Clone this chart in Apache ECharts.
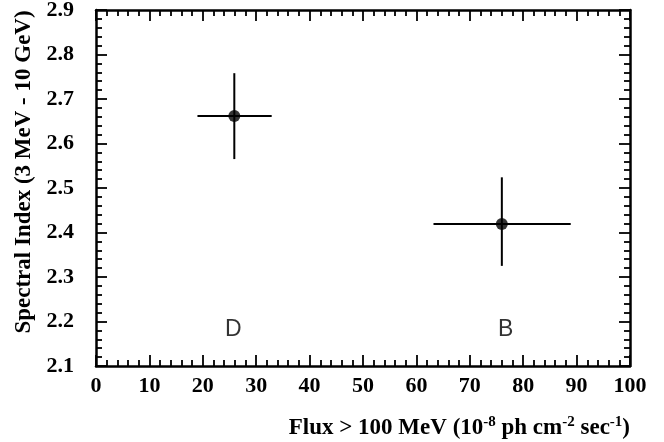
<!DOCTYPE html>
<html>
<head>
<meta charset="utf-8">
<title>Spectral Index vs Flux</title>
<script src="https://cdn.jsdelivr.net/npm/echarts@6/dist/echarts.min.js"></script>
<style>
  html, body { margin: 0; padding: 0; background: #fff; }
  #chart { width: 664px; height: 442px; }
</style>
</head>
<body>
<div id="chart"></div>
<script>
// source names
const sources = ['D', 'B']
// flux > 100 MeV (x), with error range
const flux = [25.9, 76.0]
const fluxLow = [19.0, 63.2]
const fluxHigh = [32.9, 88.9]
// spectral index (y), with error range
const specIndex = [2.662, 2.419]
const indexLow = [2.565, 2.325]
const indexHigh = [2.758, 2.524]
// where the source letters sit
const labelFlux = [25.7, 76.7]
const labelIndex = [2.181, 2.181]
// axis ticks
const xTicks = [0, 10, 20, 30, 40, 50, 60, 70, 80, 90, 100]
const yTicks = ['2.1', '2.2', '2.3', '2.4', '2.5', '2.6', '2.7', '2.8', '2.9']

const serif = 'Liberation Serif'
const chart = echarts.init(document.getElementById('chart'), null, { renderer: 'canvas' })

// shared axis look (box with inside ticks on all four sides)
function boxAxis (extra) {
  return Object.assign({
    type: 'value',
    axisLine: { show: true, onZero: false, lineStyle: { color: '#000', width: 2.5 } },
    axisTick: { show: true, inside: true, length: 11, lineStyle: { color: '#000', width: 1.8 } },
    minorTick: { show: true, splitNumber: 5, length: 6, lineStyle: { color: '#000', width: 1.8 } },
    splitLine: { show: false },
    minorSplitLine: { show: false }
  }, extra)
}

const xAxisLabel = {
  show: true,
  margin: 9,
  color: '#000',
  fontFamily: serif,
  fontWeight: 'bold',
  fontSize: 22,
  formatter: v => String(v)
}
const yAxisLabel = {
  show: true,
  margin: 22,
  color: '#000',
  fontFamily: serif,
  fontWeight: 'bold',
  fontSize: 22,
  formatter: v => v.toFixed(1)
}

const option = {
  backgroundColor: '#fff',
  animation: false,
  grid: {
    left: 96,
    right: 34,
    top: 10,
    bottom: 76,
    containLabel: false,
    outerBoundsMode: 'none'
  },
  xAxis: [
    boxAxis({ position: 'bottom', min: xTicks[0], max: xTicks[xTicks.length - 1], interval: 10, axisLabel: xAxisLabel }),
    boxAxis({ position: 'top', min: xTicks[0], max: xTicks[xTicks.length - 1], interval: 10, axisLabel: { show: false } })
  ],
  yAxis: [
    boxAxis({ position: 'left', min: +yTicks[0], max: +yTicks[yTicks.length - 1], interval: 0.1, axisLabel: yAxisLabel }),
    boxAxis({ position: 'right', min: +yTicks[0], max: +yTicks[yTicks.length - 1], interval: 0.1, axisLabel: { show: false } })
  ],
  graphic: [
    {
      // y axis title
      type: 'text',
      x: 24,
      y: 172,
      rotation: Math.PI / 2,
      style: {
        text: 'Spectral Index (3 MeV - 10 GeV)',
        fill: '#000',
        font: 'bold 23px "Liberation Serif"',
        align: 'center',
        verticalAlign: 'middle'
      }
    },
    {
      // x axis title, with superscripts
      type: 'text',
      x: 630,
      y: 428,
      style: {
        text: '{m|Flux > 100 MeV (10}{s|-8}{m| ph cm}{s|-2}{m| sec}{s|-1}{m|)}',
        align: 'right',
        verticalAlign: 'middle',
        rich: {
          m: { fontFamily: serif, fontWeight: 'bold', fontSize: 23, lineHeight: 26, fill: '#000' },
          s: { fontFamily: serif, fontWeight: 'bold', fontSize: 15, lineHeight: 15, verticalAlign: 'top', fill: '#000' }
        }
      }
    }
  ],
  series: [
    {
      // error bars
      type: 'custom',
      xAxisIndex: 0,
      yAxisIndex: 0,
      data: sources.map((s, i) => [flux[i], specIndex[i], fluxLow[i], fluxHigh[i], indexLow[i], indexHigh[i]]),
      renderItem: (params, api) => {
        const l = api.coord([api.value(2), api.value(1)])
        const r = api.coord([api.value(3), api.value(1)])
        const b = api.coord([api.value(0), api.value(4)])
        const t = api.coord([api.value(0), api.value(5)])
        const st = { stroke: '#000', lineWidth: 2 }
        return {
          type: 'group',
          children: [
            { type: 'line', shape: { x1: l[0], y1: l[1], x2: r[0], y2: r[1] }, style: st },
            { type: 'line', shape: { x1: b[0], y1: b[1], x2: t[0], y2: t[1] }, style: st }
          ]
        }
      },
      z: 2
    },
    {
      // central values
      type: 'scatter',
      symbol: 'circle',
      symbolSize: 12,
      itemStyle: { color: '#000' },
      data: sources.map((s, i) => [flux[i], specIndex[i]]),
      z: 3
    },
    {
      // source letters
      type: 'scatter',
      symbolSize: 0,
      data: sources.map((s, i) => ({ name: s, value: [labelFlux[i], labelIndex[i]] })),
      label: {
        show: true,
        position: 'inside',
        formatter: p => p.name,
        color: '#000',
        fontFamily: 'Liberation Sans',
        fontSize: 23
      },
      z: 3
    }
  ]
}

chart.setOption(option)
</script>
</body>
</html>
